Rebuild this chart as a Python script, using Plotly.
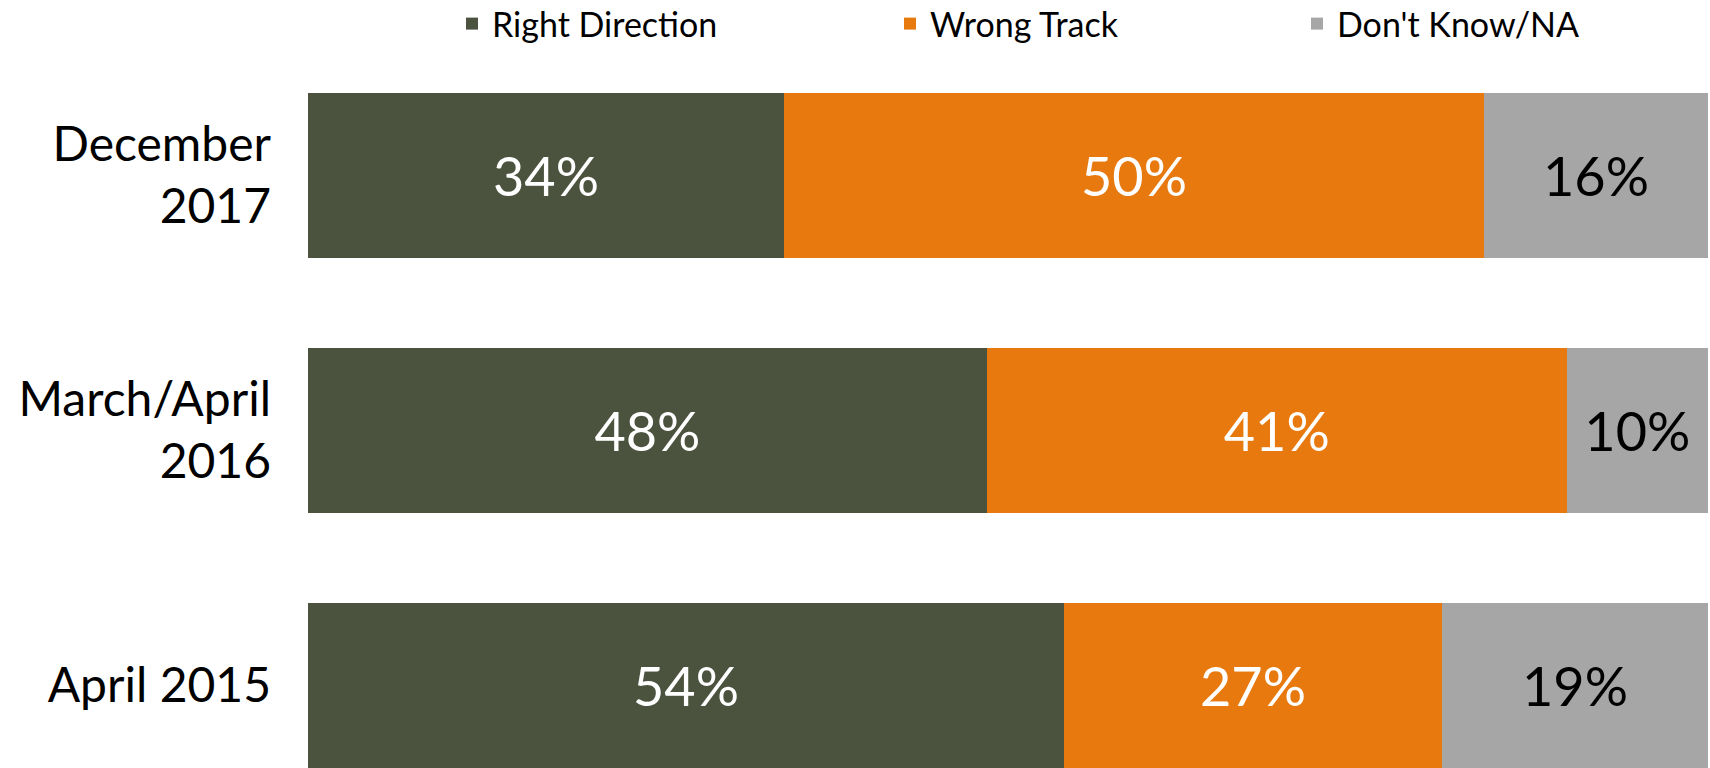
import plotly.graph_objects as go

# Data (bottom to top as drawn)
categories = ["April 2015", "March/April<br>2016", "December<br>2017"]
right_direction = [54, 48, 34]
wrong_track = [27, 41, 50]
dont_know = [19, 10, 16]

series_names = ["Right Direction", "Wrong Track", "Don't Know/NA"]
series_values = [right_direction, wrong_track, dont_know]
colors = ["#4B533F", "#E8790F", "#A6A6A6"]
text_colors = ["white", "white", "black"]
legend_ids = ["legend", "legend2", "legend3"]

FONT = "Lato, 'Open Sans', sans-serif"

fig = go.Figure()
for name, vals, col, tcol, lid in zip(series_names, series_values, colors, text_colors, legend_ids):
    fig.add_trace(go.Bar(
        y=categories,
        x=vals,
        name=name,
        orientation="h",
        marker=dict(color=col, line=dict(width=0)),
        text=[f"{v}%" for v in vals],
        texttemplate="%{text}",
        textposition="inside",
        insidetextanchor="middle",
        textfont=dict(family=FONT, size=54, color=tcol),
        legend=lid,
        showlegend=True,
        hoverinfo="skip",
    ))

W, H = 1710, 768
ML, MR, MT, MB = 308, 2, 48, 0

leg_y = 1 - 24 / H
legend_common = dict(orientation="h", yanchor="middle", xanchor="left",
                     xref="container", yref="container",
                     font=dict(family=FONT, size=34, color="black"),
                     bgcolor="rgba(0,0,0,0)", borderwidth=0)

fig.update_layout(
    width=W, height=H,
    showlegend=True,
    barmode="stack",
    barnorm="percent",
    bargap=0.353,
    margin=dict(l=ML, r=MR, t=MT, b=MB, pad=0, autoexpand=False),
    paper_bgcolor="white",
    plot_bgcolor="white",
    font=dict(family=FONT, color="black"),
    legend=dict(x=452 / W, y=leg_y, **legend_common),
    legend2=dict(x=890 / W, y=leg_y, **legend_common),
    legend3=dict(x=1297 / W, y=leg_y, **legend_common),
    xaxis=dict(range=[0, 100], visible=False, fixedrange=True, automargin=False),
    yaxis=dict(
        type="category",
        categoryorder="array",
        categoryarray=categories,
        range=[-0.3235, 2.5],
        showgrid=False, showline=False, zeroline=False,
        ticks="",
        ticklabelstandoff=36,
        automargin=False,
        tickfont=dict(family=FONT, size=48, color="black"),
        fixedrange=True,
    ),
)

fig.write_html(
    "out.html",
    config={"displayModeBar": False},
    post_script="document.body.style.margin='0';document.body.style.overflow='hidden';",
)
